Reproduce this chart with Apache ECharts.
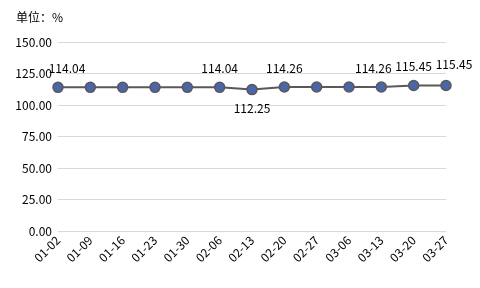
<!DOCTYPE html>
<html><head><meta charset="utf-8">
<script src="https://cdn.jsdelivr.net/npm/echarts@6/dist/echarts.min.js"></script>
<style>html,body{margin:0;padding:0;background:#fff}#c{width:480px;height:288px}</style>
</head><body><div id="c"></div>
<script>
const categories = ['01-02','01-09','01-16','01-23','01-30','02-06','02-13','02-20','02-27','03-06','03-13','03-20','03-27'];
const values = [114.04,114.04,114.04,114.04,114.04,114.04,112.25,114.26,114.26,114.26,114.26,115.45,115.45];
const showLabel = [true,false,false,false,false,true,true,true,false,false,true,true,true];
const labelBelow = [false,false,false,false,false,false,true,false,false,false,false,false,false];
const yTicks = [0,25,50,75,100,125,150];

// label nudges (style only)
const labelNudge = {0:[9,0], 10:[-8,0], 12:[8,-2]};

const chart = echarts.init(document.getElementById('c'), null, {renderer:'canvas'});
const font = '"Microsoft YaHei","Noto Sans CJK SC","Noto Sans",sans-serif';
chart.setOption({
  animation:false,
  title:{text:'单位：%', left:11, top:6, textStyle:{fontSize:12, fontWeight:'normal', color:'#000', fontFamily:font}},
  grid:{left:58, right:34, top:42, bottom:57},
  xAxis:{type:'category', data:categories, boundaryGap:false,
    axisLine:{show:false}, axisTick:{show:false},
    axisLabel:{rotate:45, fontSize:12, color:'#000', fontFamily:font, margin:7, interval:0}},
  yAxis:{type:'value', min:yTicks[0], max:yTicks[yTicks.length-1], interval:25,
    axisLine:{show:false}, axisTick:{show:false},
    splitLine:{lineStyle:{color:'#d9d9d9'}},
    axisLabel:{fontSize:12, color:'#000', fontFamily:font, formatter:v=>v.toFixed(2), margin:6}},
  series:[{type:'line', data:values.map((v,i)=>({value:v,
      label:{show:showLabel[i], position: labelBelow[i]?'bottom':'top', offset: labelNudge[i]||[0,0]}})),
    symbol:'circle', symbolSize:10,
    lineStyle:{color:'#595959', width:2},
    itemStyle:{color:'#4a65a8', borderColor:'#595959', borderWidth:1.5},
    label:{fontSize:12, color:'#000', fontFamily:font, formatter:p=>p.value.toFixed(2), distance:7}
  }]
});
</script></body></html>
